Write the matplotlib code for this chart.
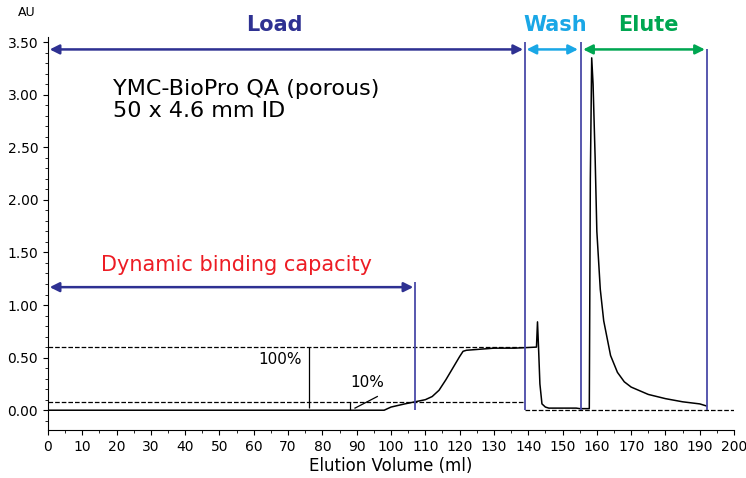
import matplotlib.pyplot as plt
from matplotlib.ticker import MultipleLocator, FormatStrFormatter

vol = [0, 98, 100, 104, 107, 110, 112, 114, 116, 118, 120, 121, 122, 126, 130, 136, 142.4,
       142.7, 143.0, 143.4, 144, 145, 146, 150, 154, 155, 157.8, 158.1, 158.5, 158.9,
       159.5, 160, 161, 162, 164, 166, 168, 170, 175, 180, 185, 190, 192]
au = [0, 0, 0.03, 0.06, 0.08, 0.10, 0.13, 0.19, 0.29, 0.40, 0.51, 0.56, 0.57, 0.58, 0.59, 0.59, 0.60,
      0.84, 0.60, 0.25, 0.06, 0.03, 0.02, 0.02, 0.02, 0.015, 0.015, 2.2, 3.35, 3.1,
      2.4, 1.7, 1.15, 0.85, 0.52, 0.36, 0.27, 0.22, 0.15, 0.11, 0.08, 0.06, 0.04]

marks = [107, 139, 155.5, 192]
mark_tops = [1.22, 3.5, 3.5, 3.43]

fig = plt.figure(figsize=(7.46, 4.78), dpi=100)
ax = fig.add_axes([0.0643, 0.100, 0.9197, 0.823])
ax.set_xlim(0, 200)
ax.set_ylim(-0.19, 3.55)
for s in ['top', 'right']:
    ax.spines[s].set_visible(False)

ax.plot(vol, au, color='black', lw=1.1)
ax.hlines([0.6, 0.08], 0, 139, colors='black', linestyles='--', lw=0.9)
ax.hlines(0, 139, 200, colors='black', linestyles='--', lw=0.9)
for x, t in zip(marks, mark_tops):
    ax.vlines(x, 0, t, colors='#4a4aa8', lw=1.3)

ax.vlines(76, 0.02, 0.6, colors='black', lw=0.9)
ax.vlines(88, 0, 0.08, colors='black', lw=0.9)
ax.plot([89.5, 96], [0.02, 0.13], color='black', lw=0.9)
ax.text(74, 0.48, '100%', ha='right', va='center', fontsize=11)
ax.text(88, 0.26, '10%', ha='left', va='center', fontsize=11)

def arrow(x0, x1, y, c):
    ax.annotate('', xy=(x0, y), xytext=(x1, y),
                arrowprops=dict(arrowstyle='<|-|>', color=c, lw=1.8, mutation_scale=14, shrinkA=0, shrinkB=0))

arrow(0.5, 138.5, 3.43, '#2e3192')
arrow(139.5, 154.5, 3.43, '#1aa7e6')
arrow(156, 191.5, 3.43, '#00a651')
arrow(0.5, 106.5, 1.17, '#2e3192')

ax.text(66, 3.66, 'Load', color='#2e3192', fontsize=15, fontweight='bold', ha='center', va='center', clip_on=False)
ax.text(148, 3.66, 'Wash', color='#1aa7e6', fontsize=15, fontweight='bold', ha='center', va='center', clip_on=False)
ax.text(175, 3.66, 'Elute', color='#00a651', fontsize=15, fontweight='bold', ha='center', va='center', clip_on=False)
ax.text(55, 1.38, 'Dynamic binding capacity', color='#ed1c24', fontsize=15, ha='center', va='center')
ax.text(19, 2.95, 'YMC-BioPro QA (porous)\n50 x 4.6 mm ID', fontsize=16, ha='left', va='center', linespacing=1.1)

ax.xaxis.set_major_locator(MultipleLocator(10))
ax.xaxis.set_minor_locator(MultipleLocator(5))
ax.yaxis.set_major_locator(MultipleLocator(0.5))
ax.yaxis.set_minor_locator(MultipleLocator(0.1))
ax.yaxis.set_major_formatter(FormatStrFormatter('%.2f'))
ax.tick_params(labelsize=10)
ax.set_xlabel('Elution Volume (ml)', fontsize=12, labelpad=2)
fig.text(18 / 746, 1 - 13 / 478, 'AU', fontsize=9, ha='left', va='center')

fig.savefig('out.png', dpi=100)
